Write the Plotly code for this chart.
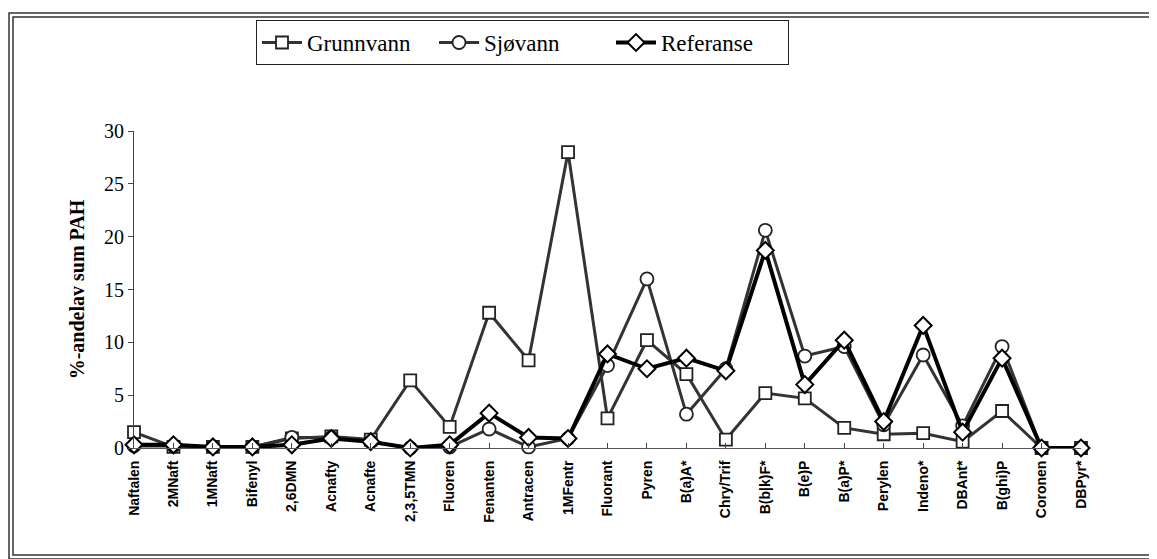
import plotly.graph_objects as go

categories = ["Naftalen", "2MNaft", "1MNaft", "Bifenyl", "2,6DMN", "Acnafty", "Acnafte",
              "2,3,5TMN", "Fluoren", "Fenanten", "Antracen", "1MFentr", "Fluorant", "Pyren",
              "B(a)A*", "Chry/Trif", "B(b|k)F*", "B(e)P", "B(a)P*", "Perylen", "Indeno*",
              "DBAnt*", "B(ghi)P", "Coronen", "DBPyr*"]

grunnvann = [1.5, 0.1, 0.1, 0.1, 0.9, 1.1, 0.8, 6.4, 2.0, 12.8, 8.3, 28.0, 2.8, 10.2,
             7.0, 0.8, 5.2, 4.7, 1.9, 1.3, 1.4, 0.6, 3.5, 0.0, 0.0]
sjovann = [0.2, 0.2, 0.1, 0.1, 1.0, 1.0, 0.6, 0.0, 0.1, 1.8, 0.1, 0.9, 7.8, 16.0,
           3.2, 7.5, 20.6, 8.7, 9.6, 2.2, 8.8, 2.1, 9.6, 0.0, 0.0]
referanse = [0.3, 0.3, 0.1, 0.1, 0.3, 0.9, 0.6, 0.0, 0.3, 3.3, 1.0, 0.9, 8.9, 7.5,
             8.5, 7.3, 18.7, 6.0, 10.2, 2.5, 11.6, 1.5, 8.5, 0.0, 0.0]

W, H = 1157, 559
L, R, T, B = 126, 1073, 120, 440

x_idx = list(range(len(categories)))

fig = go.Figure()
fig.add_trace(go.Scatter(x=x_idx, y=grunnvann, name="Grunnvann", mode="lines+markers",
                         line=dict(color="#333333", width=3),
                         marker=dict(symbol="square", size=12, color="white",
                                     line=dict(color="#222", width=1.8)),
                         cliponaxis=False))
fig.add_trace(go.Scatter(x=x_idx, y=sjovann, name="Sjøvann", mode="lines+markers",
                         line=dict(color="#333333", width=3),
                         marker=dict(symbol="circle", size=13, color="white",
                                     line=dict(color="#222", width=1.8)),
                         cliponaxis=False))
fig.add_trace(go.Scatter(x=x_idx, y=referanse, name="Referanse", mode="lines+markers",
                         line=dict(color="black", width=4),
                         marker=dict(symbol="diamond", size=13, color="white",
                                     line=dict(color="black", width=2)),
                         cliponaxis=False))

def px(xp):
    return (xp - L) / (R - L)

def py(yp):
    return (B - yp) / (B - T)

shapes = []
for (x0, y0, x1, y1, w) in [(1, 1, 1153, 552, 1.5), (5, 5, 1149, 548, 1.5)]:
    shapes.append(dict(type="rect", xref="paper", yref="paper",
                       x0=px(x0), x1=px(x1), y0=py(y1), y1=py(y0),
                       line=dict(color="#333", width=w), fillcolor="rgba(0,0,0,0)"))

fig.update_layout(
    width=W, height=H,
    margin=dict(l=L, r=W - R, t=T, b=H - B),
    paper_bgcolor="white", plot_bgcolor="white",
    shapes=shapes,
    showlegend=True,
    legend=dict(orientation="h", x=px(248), y=py(8), xanchor="left", yanchor="top",
                bordercolor="#222", borderwidth=1, bgcolor="white",
                font=dict(family="Liberation Serif", size=23, color="black"),
                itemwidth=40, entrywidth=122, tracegroupgap=0),
    xaxis=dict(range=[0, 24], tickmode="array", tickvals=x_idx, ticktext=categories,
               tickangle=-90, ticks="inside", ticklen=5, tickcolor="#444",
               ticklabelstandoff=6,
               showline=True, linecolor="#555", linewidth=1, showgrid=False, zeroline=False,
               tickfont=dict(family="Liberation Sans", size=14, color="black", weight="bold")),
    yaxis=dict(range=[0, 30], tickvals=[0, 5, 10, 15, 20, 25, 30], ticks="outside",
               ticklen=5, tickcolor="#444", showline=True, linecolor="#444", linewidth=1,
               showgrid=False, zeroline=False,
               tickfont=dict(family="Liberation Serif", size=20, color="black"),
               title=dict(text="<b>%-andelav sum PAH</b>", standoff=14,
                          font=dict(family="Liberation Serif", size=20, color="black"))),
)

fig.write_html("out.html")
